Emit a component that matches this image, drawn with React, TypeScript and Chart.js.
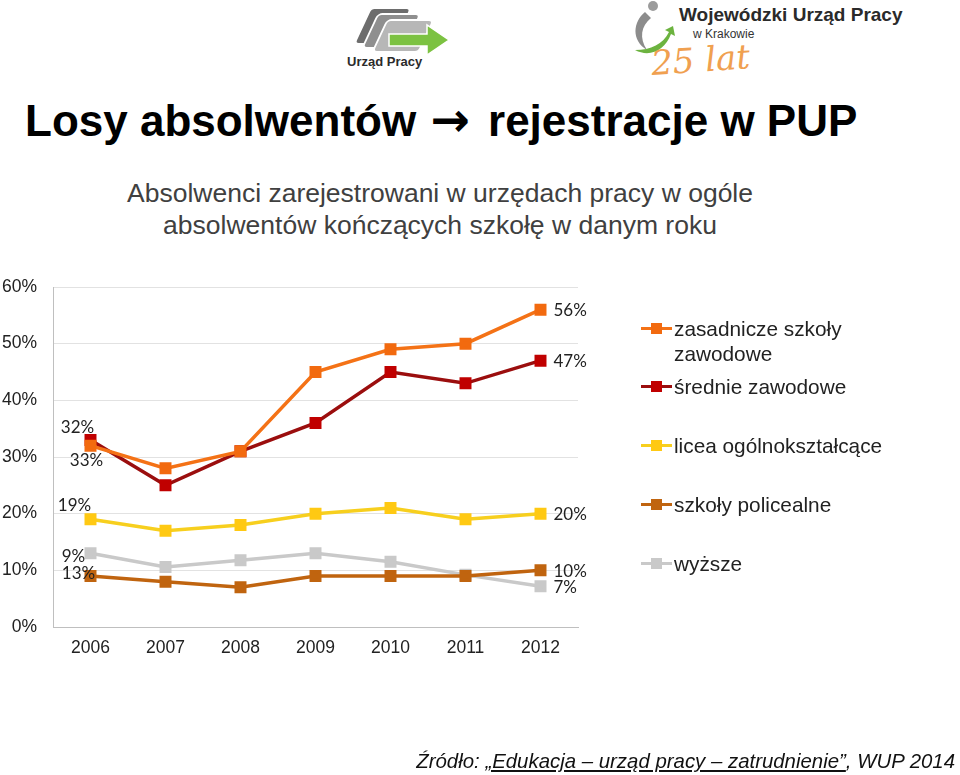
import React, { useEffect, useRef } from "react";
import { Chart, registerables } from "chart.js";

Chart.register(...registerables);

const years = ["2006", "2007", "2008", "2009", "2010", "2011", "2012"];
const zasadnicze = [32, 28, 31, 45, 49, 50, 56];
const srednie = [33, 25, 31, 36, 45, 43, 47];
const licea = [19, 17, 18, 20, 21, 19, 20];
const policealne = [9, 8, 7, 9, 9, 9, 10];
const wyzsze = [13, 10.6, 11.8, 13, 11.5, 9.2, 7.2];
const seriesNames = [
  "zasadnicze szkoły zawodowe",
  "średnie zawodowe",
  "licea ogólnokształcące",
  "szkoły policealne",
  "wyższe",
];
const firstLabels = ["33%", "32%", "19%", "13%", "9%"];
const lastLabels = ["56%", "47%", "20%", "10%", "7%"];
const yTicks = [0, 10, 20, 30, 40, 50, 60];

const lineColors = ["#F47216", "#9B0E0E", "#F7CF1E", "#C0640F", "#C9C9C9"];
const markerColors = ["#F26A0F", "#C00000", "#FFC913", "#C0640F", "#C9C9C9"];
// label offsets relative to first point (dx, dy)
const firstOffsets = [
  [-4, 15],
  [-13, -12],
  [-16, -14],
  [-12, -2],
  [-17, 3],
];

const labelPlugin = {
  id: "endLabels",
  afterDatasetsDraw(chart: any) {
    const ctx = chart.ctx;
    ctx.save();
    ctx.font = "17px Lato, 'Open Sans', sans-serif";
    ctx.fillStyle = "#222";
    ctx.textBaseline = "middle";
    chart.data.datasets.forEach((ds: any, i: number) => {
      const meta = chart.getDatasetMeta(i);
      const p0 = meta.data[0];
      const pl = meta.data[meta.data.length - 1];
      ctx.textAlign = "center";
      ctx.fillText(firstLabels[i], p0.x + firstOffsets[i][0], p0.y + firstOffsets[i][1]);
      ctx.textAlign = "left";
      ctx.fillText(lastLabels[i], pl.x + 13, pl.y + 1);
    });
    ctx.restore();
  },
};

function UrzadLogo() {
  return (
    <svg width="120" height="72" viewBox="0 0 120 72" style={{ position: "absolute", left: 335, top: 0 }}>
      <g transform="translate(18,8) skewX(-25)">
        <rect x="18" y="0" width="40" height="36" rx="4" fill="#6d6d6d" stroke="#fff" strokeWidth="2" />
        <rect x="28" y="6" width="42" height="34" rx="4" fill="#8f8f8f" stroke="#fff" strokeWidth="2" />
        <rect x="40" y="12" width="46" height="32" rx="4" fill="#b7b7b7" stroke="#fff" strokeWidth="2" />
      </g>
      <polygon points="54,34 92,34 92,25 114,40 92,55 92,46 54,46" fill="#7cc242" stroke="#fff" strokeWidth="1.5" />
      <text x="12" y="66" fontFamily="Arial, sans-serif" fontWeight="bold" fontSize="13" fill="#2b2b2b">Urząd Pracy</text>
    </svg>
  );
}

function WupLogo() {
  return (
    <svg width="300" height="80" viewBox="0 0 300 80" style={{ position: "absolute", left: 625, top: 0 }}>
      <circle cx="28" cy="6" r="5" fill="#9b9b9b" />
      <path d="M20 12 C 8 22, 6 40, 22 50 C 14 38, 16 26, 26 18 Z" fill="#8c8c8c" />
      <path d="M10 50 C 25 58, 40 50, 46 34 L 50 36 L 48 26 L 40 30 L 44 32 C 38 44, 26 50, 10 50 Z" fill="#6cb33f" />
      <text x="54" y="21" fontFamily="Arial, sans-serif" fontWeight="bold" fontSize="19" fill="#2a2a2a">Wojewódzki Urząd Pracy</text>
      <text x="68" y="38" fontFamily="Arial, sans-serif" fontSize="12" fill="#333">w Krakowie</text>
      <text x="26" y="74" fontFamily="'DejaVu Serif', serif" fontStyle="italic" fontSize="34" fill="#f0a050" transform="rotate(-4 40 60)">25 lat</text>
    </svg>
  );
}

const legendTops = [316, 374, 433, 492, 551];

export default function App() {
  const ref = useRef<HTMLCanvasElement>(null);
  useEffect(() => {
    const all = [zasadnicze, srednie, licea, policealne, wyzsze];
    const chart = new Chart(ref.current!, {
      type: "line",
      data: {
        labels: years,
        datasets: all.map((d, i) => ({
          label: seriesNames[i],
          data: d,
          borderColor: lineColors[i],
          backgroundColor: markerColors[i],
          pointBackgroundColor: markerColors[i],
          pointBorderColor: markerColors[i],
          pointStyle: "rect",
          pointRadius: 6,
          borderWidth: 3.5,
          tension: 0,
          fill: false,
        })),
      },
      options: {
        responsive: false,
        animation: false,
        layout: { padding: { left: 0, top: 287, right: 382, bottom: 108 } },
        plugins: { legend: { display: false }, tooltip: { enabled: false } },
        scales: {
          x: {
            offset: true,
            grid: { display: false, drawTicks: false },
            border: { display: true, color: "#BFBFBF", width: 1 },
            ticks: { color: "#222", font: { family: "Arial", size: 17.5 }, padding: 11 },
            afterFit: (s: any) => { s.height = 40; },
          },
          y: {
            min: 0,
            max: 60,
            afterBuildTicks: (s: any) => { s.ticks = yTicks.map((v) => ({ value: v })); },
            grid: { color: "#E2E2E2", drawTicks: false },
            border: { display: true, color: "#BFBFBF", width: 1 },
            ticks: {
              color: "#222",
              font: { family: "Arial", size: 17.5 },
              padding: 16,
              callback: (v: any) => v + "%",
            },
            afterFit: (s: any) => { s.width = 53; },
          },
        },
      },
      plugins: [labelPlugin],
    });
    return () => chart.destroy();
  }, []);

  return (
    <div style={{ position: "absolute", left: 0, top: 0, width: 960, height: 775, background: "#fff", overflow: "hidden", fontFamily: "Arial, 'Liberation Sans', sans-serif" }}>
      <UrzadLogo />
      <WupLogo />
      <div style={{ position: "absolute", left: 25, top: 98, fontSize: 44, lineHeight: "44px", fontWeight: "bold", color: "#000", whiteSpace: "nowrap" }}>
        Losy absolwentów <span style={{ fontFamily: "'DejaVu Sans', sans-serif", fontSize: 47, lineHeight: "44px", margin: "0 6px 0 2px" }}>→</span> rejestracje w PUP
      </div>
      <div style={{ position: "absolute", left: 0, top: 177, width: 880, textAlign: "center", fontSize: 26.5, lineHeight: "32px", color: "#404040", whiteSpace: "nowrap" }}>
        Absolwenci zarejestrowani w urzędach pracy w ogóle
        <br />
        absolwentów kończących szkołę w danym roku
      </div>
      <canvas ref={ref} width={960} height={775} style={{ position: "absolute", left: 0, top: 0 }} />
      {seriesNames.map((n, i) => (
        <div key={n} style={{ position: "absolute", left: 641, top: legendTops[i], width: 300 }}>
          <div style={{ position: "absolute", left: 0, top: 11, width: 31, height: 3, background: lineColors[i] }} />
          <div style={{ position: "absolute", left: 10, top: 7, width: 11, height: 11, background: markerColors[i] }} />
          <div style={{ marginLeft: 33, fontSize: 20.8, lineHeight: "25px", color: "#222", whiteSpace: "nowrap" }}>
            {i === 0 ? (<>zasadnicze szkoły<br />zawodowe</>) : n}
          </div>
        </div>
      ))}
      <div style={{ position: "absolute", right: 5, top: 749, fontSize: 20.4, lineHeight: "24px", fontStyle: "italic", color: "#111", whiteSpace: "nowrap" }}>
        Źródło: <span style={{ textDecoration: "underline" }}>„Edukacja – urząd pracy – zatrudnienie”</span>, WUP 2014
      </div>
    </div>
  );
}
